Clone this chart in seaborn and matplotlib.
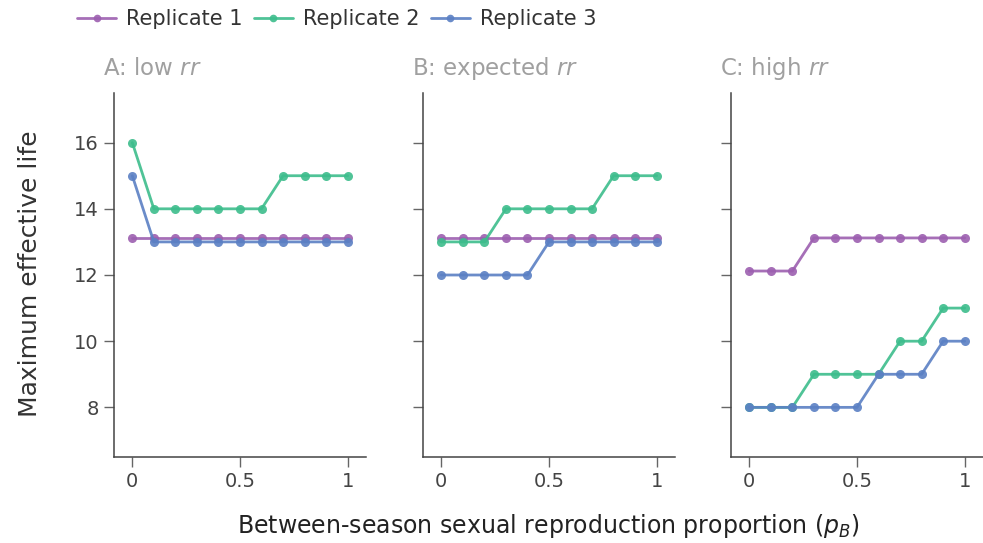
import numpy as np
import pandas as pd
import matplotlib
matplotlib.use("Agg")
import matplotlib.pyplot as plt
import seaborn as sns

sns.set_theme(style="white")
plt.rcParams["font.family"] = ["DejaVu Sans"]
plt.rcParams["mathtext.fontset"] = "dejavusans"

# proportion of sexual reproduction between seasons
p_b = [0.0, 0.1, 0.2, 0.3, 0.4, 0.5, 0.6, 0.7, 0.8, 0.9, 1.0]

panels = ["A: low $\\mathit{rr}$", "B: expected $\\mathit{rr}$", "C: high $\\mathit{rr}$"]
replicates = ["Replicate 1", "Replicate 2", "Replicate 3"]
colors = ["#9c5fb0", "#3dbd8c", "#5b80c4"]

# maximum effective life per panel and replicate
low_rep1 = [13.12] * 11
low_rep2 = [16, 14, 14, 14, 14, 14, 14, 15, 15, 15, 15]
low_rep3 = [15, 13, 13, 13, 13, 13, 13, 13, 13, 13, 13]

exp_rep1 = [13.12] * 11
exp_rep2 = [13, 13, 13, 14, 14, 14, 14, 14, 15, 15, 15]
exp_rep3 = [12, 12, 12, 12, 12, 13, 13, 13, 13, 13, 13]

high_rep1 = [12.12, 12.12, 12.12, 13.12, 13.12, 13.12, 13.12, 13.12, 13.12, 13.12, 13.12]
high_rep2 = [8, 8, 8, 9, 9, 9, 9, 10, 10, 11, 11]
high_rep3 = [8, 8, 8, 8, 8, 8, 9, 9, 9, 10, 10]

series = [
    [low_rep1, low_rep2, low_rep3],
    [exp_rep1, exp_rep2, exp_rep3],
    [high_rep1, high_rep2, high_rep3],
]

rows = []
for pi, panel in enumerate(panels):
    for ri, rep in enumerate(replicates):
        for x, y in zip(p_b, series[pi][ri]):
            rows.append({"panel": panel, "replicate": rep, "p_b": x, "life": y})
df = pd.DataFrame(rows)

W, H = 983, 543
fig = plt.figure(figsize=(W / 100, H / 100), dpi=100)
lefts = [114, 423, 731]
ax_w, top, bottom = 252, 93, 457
palette = dict(zip(replicates, colors))
tick_color = "#444444"
axes = []
for i, panel in enumerate(panels):
    ax = fig.add_axes([lefts[i] / W, (H - bottom) / H, ax_w / W, (bottom - top) / H])
    sub = df[df["panel"] == panel]
    sns.lineplot(data=sub, x="p_b", y="life", hue="replicate", palette=palette,
                 marker="o", markersize=6.5, markeredgewidth=0, linewidth=2,
                 alpha=0.9, ax=ax, legend=False, sort=False)
    ax.set_xlim(-0.085, 1.085)
    ax.set_ylim(6.5, 17.5)
    ax.set_xticks([0, 0.5, 1])
    ax.set_xticklabels(["0", "0.5", "1"])
    ax.set_yticks([8, 10, 12, 14, 16])
    ax.set_xlabel("")
    ax.set_ylabel("")
    for s in ["top", "right"]:
        ax.spines[s].set_visible(False)
    for s in ["left", "bottom"]:
        ax.spines[s].set_color("#444444")
        ax.spines[s].set_linewidth(1.1)
    ax.tick_params(axis="both", direction="out", length=7, width=1, color="#666666",
                   labelsize=14, labelcolor=tick_color, pad=4, left=True, bottom=True)
    if i > 0:
        ax.tick_params(axis="y", labelleft=False)
    ax.set_title(panel, loc="left", fontsize=16.5, color="#a0a0a0", x=-0.045, y=1.0, pad=13)
    axes.append(ax)

fig.text(30 / W, (H - 274) / H, "Maximum effective life", rotation=90, ha="center",
         va="center", fontsize=18, color="#333333")
fig.text(548 / W, (H - 526) / H, "Between-season sexual reproduction proportion ($p_B$)",
         ha="center", va="center", fontsize=17, color="#222222")

handles = [plt.Line2D([], [], color=c, marker="o", markersize=5.5, markeredgewidth=0,
                      linewidth=2, alpha=0.9) for c in colors]
fig.legend(handles, replicates, loc="upper left", bbox_to_anchor=(58 / W, 1.018),
           ncol=3, frameon=False, fontsize=15, handlelength=1.9, columnspacing=0.55,
           handletextpad=0.45, labelcolor="#333333")

fig.savefig("out.png", dpi=100)
